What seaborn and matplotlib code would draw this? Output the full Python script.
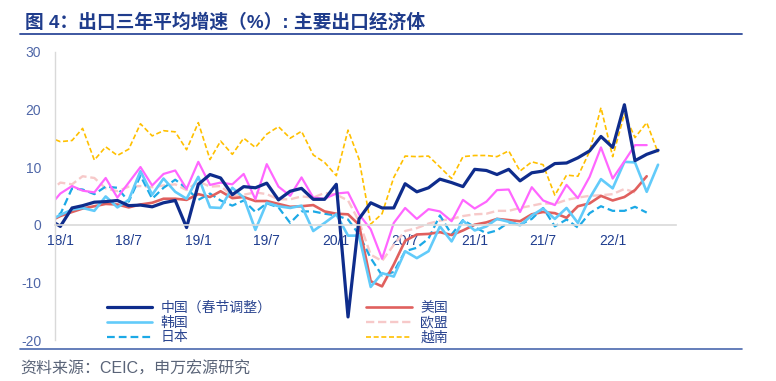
import numpy as np
import pandas as pd
import seaborn as sns
import matplotlib.pyplot as plt
import matplotlib.dates as mdates
from matplotlib.lines import Line2D

sns.set_style('white')
plt.rcParams['font.family'] = ['Liberation Sans', 'Noto Sans CJK SC']
plt.rcParams['axes.unicode_minus'] = False

nan = np.nan
# monthly points, 2017/12 .. 2022/5 (first one falls left of the axis and is clipped)
months = pd.date_range('2017-12-01', '2022-05-01', freq='MS') + pd.Timedelta(days=14)

china = [1.0, -0.3, 2.9, 3.3, 3.9, 4.0, 4.2, 3.3, 3.4, 3.1, 3.8, 4.2, -0.5, 7.0, 8.7, 8.1,
         5.2, 6.6, 6.4, 7.2, 4.3, 5.8, 6.3, 4.4, 4.4, 7.0, -16.0, 1.0, 3.8, 2.9, 2.9, 7.1,
         5.7, 6.4, 7.9, 7.3, 6.6, 9.6, 9.4, 8.7, 9.6, 7.6, 9.0, 9.3, 10.6, 10.7, 11.6, 12.8,
         15.3, 13.4, 20.8, 11.1, 12.2, 12.9]
usa = [0.5, 1.5, 2.2, 2.8, 3.2, 3.6, 3.5, 3.0, 3.5, 3.8, 4.5, 4.5, 4.3, 5.3, 4.8, 5.8,
       4.6, 4.8, 4.1, 4.1, 3.6, 3.1, 3.2, 3.4, 2.3, 1.9, 1.8, 0.0, -9.8, -10.7, -6.9, -2.8,
       -1.7, -1.6, -1.3, -1.8, -1.0, 0.0, 0.4, 1.0, 0.8, 0.6, 1.8, 2.2, 2.0, 1.2, 3.2, 3.7,
       5.0, 4.2, 4.8, 6.0, 8.4, nan]
korea = [0.6, 1.7, 2.6, 2.9, 2.4, 4.9, 3.0, 4.3, 9.3, 5.2, 8.0, 5.7, 4.5, 8.3, 3.0, 2.9,
         6.4, 4.7, -0.9, 3.8, 3.2, 2.9, 3.3, -1.1, 0.3, 1.8, -1.9, -1.9, -10.8, -8.4, -9.0, -4.6,
         -5.8, -4.6, -0.3, -2.9, 0.7, -1.0, -0.3, 1.0, 0.5, -0.1, 1.6, 2.8, 1.0, 2.9, 0.3, 4.6,
         7.9, 6.3, 10.9, 10.8, 5.7, 10.4]
eu = [5.6, 7.3, 7.0, 8.4, 8.1, 6.3, 5.8, 6.6, 6.7, 6.5, 6.8, 7.0, 6.0, 7.5, 6.6, 6.7,
      5.0, 5.2, 5.6, 5.3, 4.4, 4.4, 4.9, 4.7, 5.5, 5.2, 4.2, 0.6, -5.2, -6.3, -3.5, -1.1,
      -0.6, 0.2, 0.7, 1.0, 1.5, 1.8, 1.9, 2.4, 2.4, 2.9, 3.3, 3.7, 3.6, 4.3, 4.7, 5.0,
      5.1, 5.3, 6.2, 5.6, nan, nan]
japan = [3.0, 1.8, 6.3, 6.1, 5.3, 6.6, 6.4, 4.0, 8.5, 4.5, 6.4, 7.8, 6.3, 4.3, 5.4, 4.2,
         3.3, 4.2, 2.2, 3.7, 3.0, 0.3, 2.3, 2.3, 1.9, 1.6, 0.9, -1.7, -5.8, -8.8, -8.2, -4.6,
         -4.0, -2.4, 1.6, -1.7, 0.8, -0.4, -1.5, -1.0, 0.4, 0.0, 1.0, 2.9, -0.3, 0.9, -0.5, 2.0,
         3.2, 2.4, 2.4, 3.1, 2.1, nan]
vietnam = [15.2, 14.4, 14.6, 16.7, 11.2, 13.5, 12.0, 13.1, 17.5, 15.4, 16.3, 16.1, 13.0, 17.7, 11.3, 14.5,
           12.2, 15.0, 13.4, 15.7, 17.0, 15.0, 16.2, 12.1, 10.8, 8.5, 16.4, 11.4, 0.1, 1.9, 8.2, 11.9,
           11.8, 11.9, 10.0, 8.0, 11.8, 12.0, 12.0, 11.8, 12.8, 9.3, 10.9, 10.4, 5.1, 8.6, 8.4, 12.7,
           20.3, 11.8, 19.2, 15.1, 17.7, 12.5]
# magenta series, no legend entry in the source
other = [3.0, 5.4, 6.7, 5.9, 5.6, 8.1, 4.7, 7.3, 10.0, 6.8, 8.8, 9.4, 6.2, 10.9, 6.9, 7.3,
         7.0, 8.8, 4.4, 10.5, 6.6, 5.0, 8.2, 4.7, 4.5, 5.4, 5.6, 1.8, -0.8, -5.9, 0.3, 2.9,
         1.0, 2.7, 2.3, 0.6, 4.3, 2.8, 4.0, 6.0, 6.1, 2.2, 6.5, 4.2, 3.4, 6.9, 4.6, 8.3,
         13.4, 8.0, 11.0, 13.8, 13.8, nan]

df = pd.DataFrame({'date': months, '中国（春节调整）': china, '美国': usa, '韩国': korea,
                   '欧盟': eu, '日本': japan, '越南': vietnam, 'other': other})

fig = plt.figure(figsize=(7.76, 3.81), dpi=100)
ax = fig.add_axes([0.0709, 0.1076, 0.80, 0.7567])

# (column, color, linewidth, dashes)
styles = [
    ('越南', '#FFC000', 1.2, (3, 1.6)),
    ('欧盟', '#F7C9C9', 1.7, (3.5, 1.6)),
    ('日本', '#1CA9E6', 1.6, (3.5, 1.8)),
    ('美国', '#E0605E', 1.9, None),
    ('韩国', '#62CBFA', 1.9, None),
    ('other', '#FF66FF', 1.6, None),
    ('中国（春节调整）', '#0E2C8C', 2.3, None),
]
lines = {}
for col, color, lw, dash in styles:
    d = df[['date', col]].dropna()
    sns.lineplot(x=d['date'], y=d[col], ax=ax, color=color, linewidth=lw,
                 estimator=None, sort=False, legend=False)
    ln = ax.lines[-1]
    if dash is not None:
        ln.set_dashes(dash)
    lines[col] = ln

ax.set_xlim(pd.Timestamp('2018-01-01'), pd.Timestamp('2022-07-01'))
ax.set_ylim(-20, 30)
ax.set_yticks([-20, -10, 0, 10, 20, 30])
ax.set_xlabel('')
ax.set_ylabel('')

ax.xaxis.set_major_locator(mdates.MonthLocator(bymonth=[1, 7], bymonthday=15))
ax.xaxis.set_major_formatter(plt.FuncFormatter(
    lambda v, p: f"{mdates.num2date(v).year % 100}/{mdates.num2date(v).month}"))
ax.xaxis.set_minor_locator(mdates.MonthLocator(bymonthday=1))

for s in ['top', 'right']:
    ax.spines[s].set_visible(False)
ax.spines['bottom'].set_position(('data', 0))
ax.spines['bottom'].set_color('#D9D9D9')
ax.spines['left'].set_color('#D9D9D9')
ax.spines['bottom'].set_linewidth(1.2)
ax.spines['left'].set_linewidth(1.0)

ax.tick_params(axis='x', which='major', length=0, pad=7, labelsize=10, labelcolor='#1F3D8F')
ax.tick_params(axis='x', which='minor', direction='in', length=4, width=1, color='#D9D9D9')
ax.tick_params(axis='y', direction='in', length=4, width=1, color='#D9D9D9',
               pad=10, labelsize=10, labelcolor='#4F67A8')
ax.grid(False)

order = ['中国（春节调整）', '韩国', '日本', '美国', '欧盟', '越南']
leg = ax.legend([lines[k] for k in order], order, ncol=2, loc='upper left',
                bbox_to_anchor=(0.083, 0.135), frameon=False, fontsize=10,
                handlelength=3.3, handletextpad=0.6, columnspacing=6.8,
                labelspacing=0.05, borderpad=0, borderaxespad=0)
for t in leg.get_texts():
    t.set_color('#2B4590')

fig.text(0.032, 0.942, '图 4：出口三年平均增速（%）: 主要出口经济体', fontsize=13.5,
         fontweight='bold', color='#1F3C8C', va='center', ha='left')
fig.add_artist(Line2D([0.026, 0.956], [0.911, 0.911], transform=fig.transFigure,
                      color='#2E4A9A', linewidth=1.3))
fig.add_artist(Line2D([0.026, 0.956], [0.084, 0.084], transform=fig.transFigure,
                      color='#4A68AE', linewidth=1.2))
fig.text(0.026, 0.031, '资料来源：CEIC，申万宏源研究', fontsize=11.5, color='#5A6478',
         va='center', ha='left')

fig.savefig('out.png', dpi=100)
